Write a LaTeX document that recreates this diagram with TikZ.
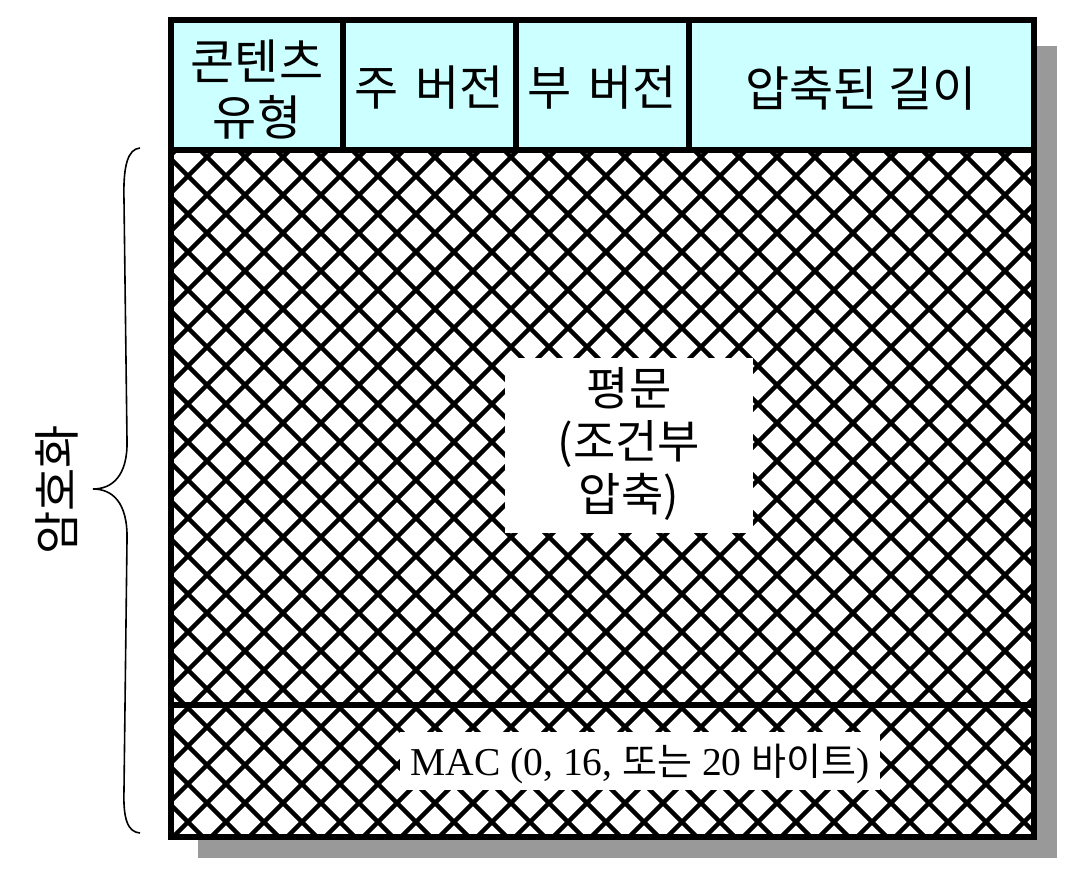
\documentclass[tikz,border=0pt]{standalone}
\usepackage{fontspec}
\setmainfont{Liberation Serif}
\newfontfamily\kr{Noto Sans CJK KR}
\definecolor{hdr}{HTML}{CCFFFF}
\definecolor{shd}{HTML}{999999}
\tikzset{
  cell/.style={font=\kr\fontsize{48}{56}\selectfont, align=center, inner sep=0pt},
  bodytxt/.style={font=\kr\fontsize{46}{53}\selectfont, align=center, inner sep=0pt},
  mactxt/.style={font=\fontsize{39.5}{44}\selectfont, inner sep=0pt},
  whitebox/.style={fill=white, draw=none},
  hatch/.style={line width=4.4pt, black},
  frame/.style={line width=6pt, black},
  divider/.style={line width=5.5pt, black},
  bracepath/.style={line width=1.6pt, black}
}
\begin{document}
\begin{tikzpicture}[x=1pt,y=-1pt]
\useasboundingbox (0,0) rectangle (1078,886);
% shadow
\fill[shd] (198,46) rectangle (1057,858);
% main box
\fill[white] (171,20) rectangle (1034,837);
\fill[hdr] (171,20) rectangle (1034,150);
% cross hatch
\begin{scope}
\clip (171,150) rectangle (1034,837);
\foreach \c in {-800,-762,...,1900} {
  \draw[hatch] (\c,100) -- (\c+800,900);
  \draw[hatch] (\c,100) -- (\c-800,900);
}
\end{scope}
% white label areas
\fill[whitebox] (505,358) rectangle (753,533);
\fill[whitebox] (400,732) rectangle (880,790);
% header cells
\node[cell] (ct) at (257,90) {콘텐츠\\유형};
\node[cell] (mj) at (429.5,88) {주\hspace{6pt} 버전};
\node[cell] (mn) at (602,88) {부\hspace{6pt} 버전};
\node[cell] (cl) at (861,88) {압축된 길이};
% body
\node[bodytxt] (pt) at (629,444) {평문\\(조건부\\압축)};
\node[mactxt] (mac) at (640,764) {MAC (0, 16, {\kr\fontsize{38}{44}\selectfont 또는} 20 {\kr\fontsize{38}{44}\selectfont 바이트})};
% lines
\draw[divider] (171,150) -- (1034,150);
\draw[divider] (343,20) -- (343,150);
\draw[divider] (516,20) -- (516,150);
\draw[divider] (689,20) -- (689,150);
\draw[divider] (171,705) -- (1034,705);
\draw[frame] (171,20) rectangle (1034,837);
% brace
\coordinate (btop) at (140,148);
\coordinate (btip) at (93,489);
\coordinate (bbot) at (140,833);
\draw[bracepath] (btop) .. controls (128,149) and (123,165) .. (124,200)
  -- (127,440) .. controls (128,476) and (112,489) .. (btip)
  .. controls (112,489) and (128,502) .. (127,540)
  -- (124,790) .. controls (123,820) and (128,832) .. (bbot);
\node[font=\kr\fontsize{47}{52}\selectfont, rotate=90, inner sep=0pt] (enc) at (57,490) {암호화};
\end{tikzpicture}
\end{document}
